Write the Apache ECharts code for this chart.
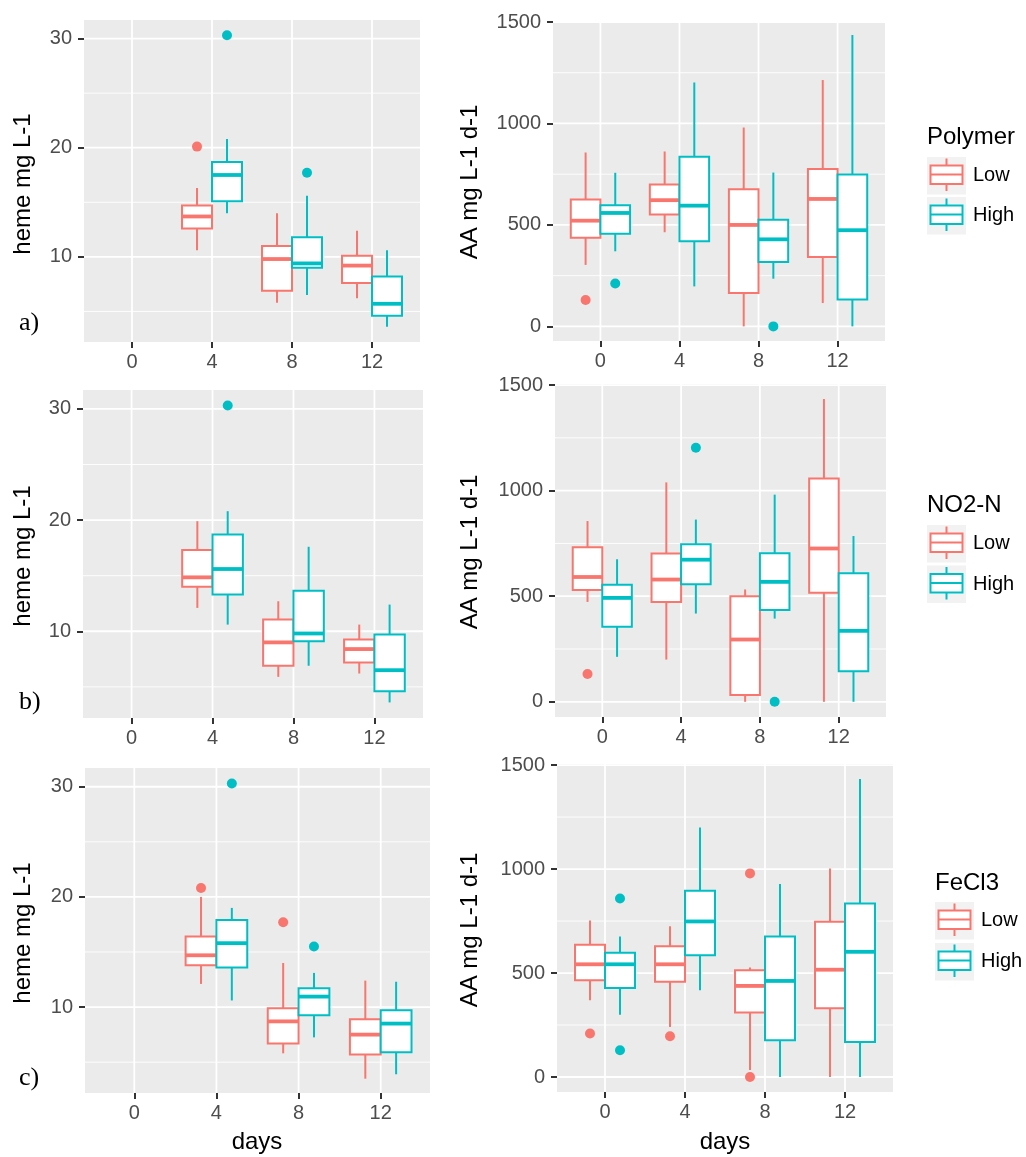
<!DOCTYPE html>
<html>
<head>
<meta charset="utf-8">
<script src="https://cdn.jsdelivr.net/npm/echarts@6/dist/echarts.min.js"></script>
<style>
html,body{margin:0;padding:0;background:#fff;}
#c{width:1026px;height:1157px;}
</style>
</head>
<body>
<div id="c"></div>
<script>
// ---------- data ----------
const days = [0, 4, 8, 12];
const hemeTicks = [10, 20, 30];
const hemeMinor = [5, 15, 25];
const aaTicks = [0, 500, 1000, 1500];
const aaMinor = [250, 750, 1250];
const groupNames = ['Low', 'High'];
const legendTitles = ['Polymer', 'NO2-N', 'FeCl3'];
const panelLetters = ['a)', 'b)', 'c)'];
const hemeTitle = 'heme mg L-1';
const aaTitle = 'AA mg L-1 d-1';
const xTitle = 'days';

// box rows: [day, min, Q1, median, Q3, max]
const hemePolymerLow  = [[4, 10.6, 12.6, 13.7, 14.7, 16.3], [8, 5.8, 6.9, 9.8, 11.0, 14.0], [12, 6.2, 7.6, 9.2, 10.1, 12.4]];
const hemePolymerHigh = [[4, 14.0, 15.1, 17.5, 18.7, 20.8], [8, 6.5, 9.0, 9.4, 11.8, 15.6], [12, 3.6, 4.6, 5.7, 8.2, 10.6]];
const hemePolymerLowOut  = [[4, 20.1]];
const hemePolymerHighOut = [[4, 30.3], [8, 17.7]];

const aaPolymerLow  = [[0, 303, 437, 521, 625, 857], [4, 464, 551, 622, 699, 862], [8, 0, 164, 500, 676, 980], [12, 115, 342, 628, 776, 1214]];
const aaPolymerHigh = [[0, 370, 457, 559, 597, 757], [4, 197, 419, 595, 836, 1202], [8, 235, 317, 429, 526, 758], [12, 0, 132, 474, 748, 1436]];
const aaPolymerLowOut  = [[0, 130]];
const aaPolymerHighOut = [[0, 211], [8, 0]];

const hemeNO2Low  = [[4, 12.1, 14.0, 14.85, 17.3, 19.9], [8, 5.9, 6.9, 9.0, 11.05, 12.7], [12, 6.2, 7.2, 8.4, 9.25, 10.6]];
const hemeNO2High = [[4, 10.6, 13.3, 15.6, 18.7, 20.8], [8, 6.9, 9.1, 9.8, 13.65, 17.6], [12, 3.6, 4.6, 6.5, 9.7, 12.4]];
const hemeNO2LowOut  = [];
const hemeNO2HighOut = [[4, 30.3]];

const aaNO2Low  = [[0, 473, 530, 591, 732, 856], [4, 200, 473, 579, 702, 1039], [8, 0, 32, 295, 500, 532], [12, 0, 516, 726, 1057, 1434]];
const aaNO2High = [[0, 213, 355, 492, 554, 675], [4, 418, 557, 673, 746, 863], [8, 394, 435, 568, 703, 981], [12, 0, 145, 336, 609, 785]];
const aaNO2LowOut  = [[0, 132]];
const aaNO2HighOut = [[4, 1203], [8, 0]];

const hemeFeLow  = [[4, 12.1, 13.8, 14.7, 16.4, 20.0], [8, 5.8, 6.7, 8.7, 9.9, 14.0], [12, 3.5, 5.7, 7.5, 8.9, 12.4]];
const hemeFeHigh = [[4, 10.6, 13.6, 15.8, 17.9, 19.0], [8, 7.25, 9.25, 10.95, 11.7, 13.1], [12, 3.9, 5.9, 8.5, 9.7, 12.3]];
const hemeFeLowOut  = [[4, 20.8], [8, 17.7]];
const hemeFeHighOut = [[4, 30.3], [8, 15.5]];

const aaFeLow  = [[0, 369, 465, 542, 636, 752], [4, 241, 458, 542, 629, 725], [8, 34, 310, 438, 513, 527], [12, 0, 331, 516, 746, 1003]];
const aaFeHigh = [[0, 300, 428, 542, 597, 676], [4, 417, 586, 748, 895, 1200], [8, 0, 177, 462, 676, 928], [12, 0, 168, 602, 834, 1433]];
const aaFeLowOut  = [[0, 209], [4, 196], [8, 979], [8, 0]];
const aaFeHighOut = [[0, 858], [0, 129]];

// ---------- styling / layout ----------
const COLORS = ['#F8766D', '#00BFC4'];
const FONT = '"Liberation Sans", Arial, Helvetica, sans-serif';
const SERIF = '"Liberation Serif", "Times New Roman", serif';
const X_MIN = -2.4, X_MAX = 14.4;
const HEME_RANGE = [2.2, 31.7];
const AA_RANGE = [-72, 1505];
const OFFSETS = [-0.75, 0.75];
const HALF = 0.75;

const panels = [
  {grid: {left: 84, top: 20, width: 336, height: 322}, kind: 'heme', low: hemePolymerLow, high: hemePolymerHigh, lowOut: hemePolymerLowOut, highOut: hemePolymerHighOut},
  {grid: {left: 553, top: 21, width: 332, height: 320}, kind: 'aa', low: aaPolymerLow, high: aaPolymerHigh, lowOut: aaPolymerLowOut, highOut: aaPolymerHighOut},
  {grid: {left: 83, top: 390, width: 340, height: 328}, kind: 'heme', low: hemeNO2Low, high: hemeNO2High, lowOut: hemeNO2LowOut, highOut: hemeNO2HighOut},
  {grid: {left: 555, top: 384, width: 331, height: 333}, kind: 'aa', low: aaNO2Low, high: aaNO2High, lowOut: aaNO2LowOut, highOut: aaNO2HighOut},
  {grid: {left: 85, top: 768, width: 345, height: 325}, kind: 'heme', low: hemeFeLow, high: hemeFeHigh, lowOut: hemeFeLowOut, highOut: hemeFeHighOut},
  {grid: {left: 557, top: 764, width: 336, height: 328}, kind: 'aa', low: aaFeLow, high: aaFeHigh, lowOut: aaFeLowOut, highOut: aaFeHighOut}
];

const grids = [], xAxes = [], yAxes = [], series = [];
const plainLabel = v => String(v);

panels.forEach((p, i) => {
  const isHeme = p.kind === 'heme';
  const yr = isHeme ? HEME_RANGE : AA_RANGE;
  const majors = isHeme ? hemeTicks : aaTicks;
  const minors = isHeme ? hemeMinor : aaMinor;
  grids.push(Object.assign({show: true, backgroundColor: '#EBEBEB', borderWidth: 0, containLabel: false}, p.grid));
  xAxes.push({
    gridIndex: i, type: 'value', min: X_MIN, max: X_MAX, position: 'bottom',
    axisLine: {show: false, onZero: false},
    axisTick: {show: true, inside: false, customValues: days, length: 6, lineStyle: {color: '#333333', width: 2}},
    axisLabel: {show: true, customValues: days, formatter: plainLabel, color: '#4D4D4D', fontSize: 20, fontFamily: FONT, margin: 10},
    splitLine: {show: false}
  });
  yAxes.push({
    gridIndex: i, type: 'value', min: yr[0], max: yr[1], position: 'left',
    axisLine: {show: false, onZero: false},
    axisTick: {show: true, inside: false, customValues: majors, length: 6, lineStyle: {color: '#333333', width: 2}},
    axisLabel: {show: true, customValues: majors, formatter: plainLabel, color: '#4D4D4D', fontSize: 20, fontFamily: FONT, margin: 12},
    splitLine: {show: false}
  });
  // grid lines
  series.push({
    type: 'custom', xAxisIndex: i, yAxisIndex: i, silent: true, z: 1,
    data: [[days[0], yr[0]]],
    renderItem: function (params, api) {
      const ch = [];
      days.forEach(d => {
        const a = api.coord([d, yr[0]]), b = api.coord([d, yr[1]]);
        ch.push({type: 'line', shape: {x1: a[0], y1: a[1], x2: b[0], y2: b[1]}, style: {stroke: '#FFFFFF', lineWidth: 1.8}});
      });
      minors.forEach(v => {
        const a = api.coord([X_MIN, v]), b = api.coord([X_MAX, v]);
        ch.push({type: 'line', shape: {x1: a[0], y1: a[1], x2: b[0], y2: b[1]}, style: {stroke: '#FFFFFF', lineWidth: 0.9}});
      });
      majors.forEach(v => {
        const a = api.coord([X_MIN, v]), b = api.coord([X_MAX, v]);
        ch.push({type: 'line', shape: {x1: a[0], y1: a[1], x2: b[0], y2: b[1]}, style: {stroke: '#FFFFFF', lineWidth: 1.8}});
      });
      return {type: 'group', children: ch};
    }
  });
  [p.low, p.high].forEach((boxes, g) => {
    const off = OFFSETS[g], col = COLORS[g];
    series.push({
      type: 'custom', name: groupNames[g], xAxisIndex: i, yAxisIndex: i, silent: true, z: 3 + g,
      data: boxes, encode: {x: 0, y: [1, 2, 3, 4, 5]},
      renderItem: function (params, api) {
        const d = api.value(0) + off;
        const l = api.coord([d - HALF, api.value(2)]);
        const r = api.coord([d + HALF, api.value(4)]);
        const mn = api.coord([d, api.value(1)]);
        const mx = api.coord([d, api.value(5)]);
        const md = api.coord([d, api.value(3)]);
        const q1y = l[1], q3y = r[1];
        return {type: 'group', children: [
          {type: 'line', shape: {x1: mx[0], y1: mx[1], x2: mx[0], y2: q3y}, style: {stroke: col, lineWidth: 2}},
          {type: 'line', shape: {x1: mn[0], y1: q1y, x2: mn[0], y2: mn[1]}, style: {stroke: col, lineWidth: 2}},
          {type: 'rect', shape: {x: l[0], y: q3y, width: r[0] - l[0], height: q1y - q3y}, style: {fill: '#FFFFFF', stroke: col, lineWidth: 2}},
          {type: 'line', shape: {x1: l[0], y1: md[1], x2: r[0], y2: md[1]}, style: {stroke: col, lineWidth: 3.8}}
        ]};
      }
    });
  });
  [p.lowOut, p.highOut].forEach((pts, g) => {
    series.push({
      type: 'scatter', xAxisIndex: i, yAxisIndex: i, silent: true, z: 6,
      symbol: 'circle', symbolSize: 10,
      itemStyle: {color: COLORS[g], opacity: 1},
      data: pts.map(q => [q[0] + OFFSETS[g], q[1]])
    });
  });
});

// ---------- titles, panel letters, legends ----------
const graphic = [];
function txt(text, x, y, opts) {
  graphic.push(Object.assign({type: 'text', x: x, y: y, silent: true,
    style: Object.assign({text: text, fill: '#000000', font: '24px ' + FONT, align: 'center', verticalAlign: 'middle'}, opts && opts.style || {})},
    opts && opts.el || {}));
}
const hemeTitlePos = [[23, 184], [23, 556], [23, 933]];
const aaTitlePos = [[470, 182], [470, 552], [470, 930]];
hemeTitlePos.forEach(pos => txt(hemeTitle, pos[0], pos[1], {el: {rotation: Math.PI / 2}}));
aaTitlePos.forEach(pos => txt(aaTitle, pos[0], pos[1], {el: {rotation: Math.PI / 2}}));
txt(xTitle, 257, 1142);
txt(xTitle, 725, 1142);
const letterPos = [[19, 323], [19, 702], [19, 1078]];
letterPos.forEach((pos, k) => txt(panelLetters[k], pos[0], pos[1], {style: {font: '26px ' + SERIF, align: 'left'}}));

const legendPos = [
  {x: 927, title: 137, keys: [157, 197]},
  {x: 927, title: 505, keys: [525, 565.5]},
  {x: 935, title: 883, keys: [902, 943]}
];
legendPos.forEach((L, k) => {
  txt(legendTitles[k], L.x, L.title, {style: {align: 'left'}});
  L.keys.forEach((ky, g) => {
    const kx = L.x, w = 39, h = 37.5, col = COLORS[g];
    graphic.push({type: 'rect', silent: true, shape: {x: kx, y: ky, width: w, height: h}, style: {fill: '#F2F2F2'}});
    graphic.push({type: 'line', silent: true, shape: {x1: kx + w / 2, y1: ky + 1.5, x2: kx + w / 2, y2: ky + 8.5}, style: {stroke: col, lineWidth: 2}});
    graphic.push({type: 'line', silent: true, shape: {x1: kx + w / 2, y1: ky + 27, x2: kx + w / 2, y2: ky + 34}, style: {stroke: col, lineWidth: 2}});
    graphic.push({type: 'rect', silent: true, shape: {x: kx + 3.5, y: ky + 8.5, width: w - 7, height: 18.5}, style: {fill: '#FFFFFF', stroke: col, lineWidth: 2}});
    graphic.push({type: 'line', silent: true, shape: {x1: kx + 3.5, y1: ky + 17.5, x2: kx + w - 3.5, y2: ky + 17.5}, style: {stroke: col, lineWidth: 2}});
    txt(groupNames[g], kx + w + 7, ky + h / 2, {style: {font: '20px ' + FONT, align: 'left'}});
  });
});

const chart = echarts.init(document.getElementById('c'), null, {renderer: 'canvas', width: 1026, height: 1157});
chart.setOption({
  animation: false,
  backgroundColor: '#FFFFFF',
  grid: grids,
  xAxis: xAxes,
  yAxis: yAxes,
  series: series,
  graphic: graphic
});
</script>
</body>
</html>
